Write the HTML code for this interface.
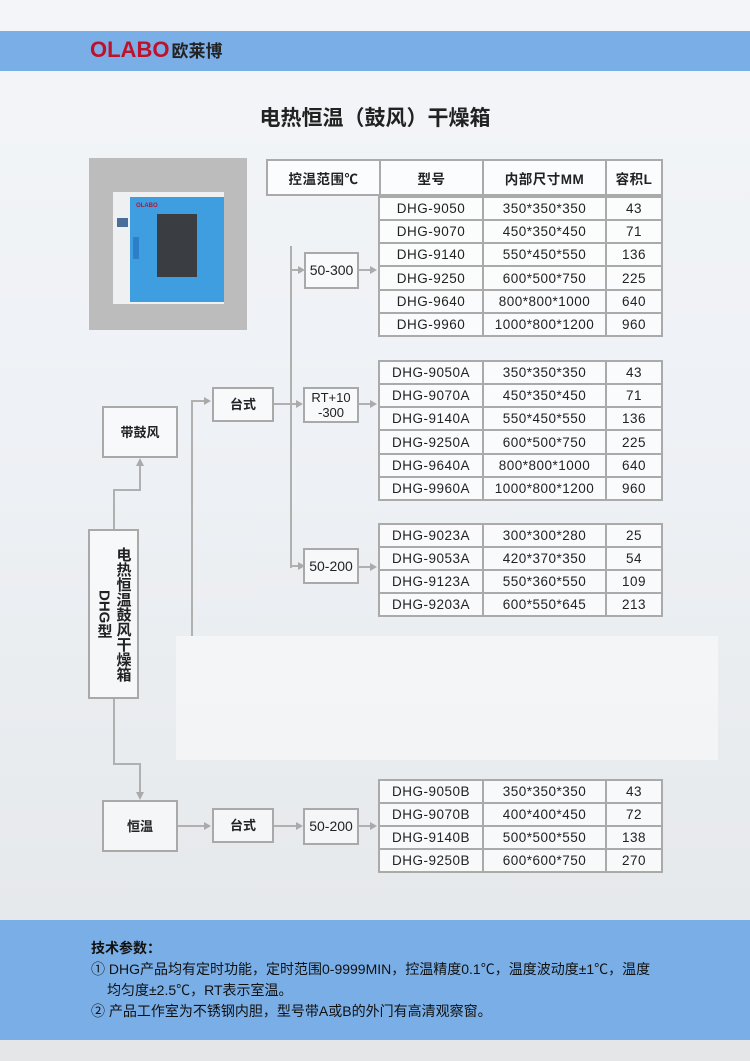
<!DOCTYPE html>
<html><head><meta charset="utf-8">
<style>
*{margin:0;padding:0;box-sizing:border-box}
body{width:750px;height:1061px;position:relative;overflow:hidden;font-family:"Liberation Sans","Noto Sans CJK SC",sans-serif;color:#222;
background:linear-gradient(180deg,#f3f5f8 0%,#eef1f5 40%,#e9ecef 70%,#e4e6e8 100%);}
.abs{position:absolute}
.box{position:absolute;border:2px solid #a9a9a9;background:rgba(255,255,255,.55);display:flex;align-items:center;justify-content:center;font-size:13px;font-weight:bold;color:#222;text-align:center;line-height:15px}
.num{font-weight:normal;font-size:14px}
table{position:absolute;border-collapse:collapse;background:rgba(255,255,255,.7)}
td{border:2px solid #aaa;text-align:center;font-size:13.5px;color:#222;padding:0;letter-spacing:.5px}
.ln{position:absolute;background:#b0b0b0}
.ar{position:absolute;width:0;height:0}
.r{border-top:4px solid transparent;border-bottom:4px solid transparent;border-left:7px solid #aaa}
</style></head><body>
<div class="abs" style="left:0;top:31px;width:750px;height:40px;background:#7aaee6"></div>
<div class="abs" style="left:90px;top:37px;font-size:22px;font-weight:bold;color:#c0112a;letter-spacing:0px">OLABO<span style="font-size:17px;color:#222;margin-left:2px">欧莱博</span></div>
<div class="abs" style="left:0;width:750px;top:102px;text-align:center;font-size:21px;font-weight:bold;color:#222">电热恒温（鼓风）干燥箱</div>
<div class="abs" style="left:89px;top:158px;width:158px;height:172px;background:#bcbcbc"></div>
<div class="abs" style="left:113px;top:192px;width:111px;height:112px;background:#eef0f2"></div>
<div class="abs" style="left:130px;top:197px;width:94px;height:105px;background:#3f9ee0"></div>
<div class="abs" style="left:136px;top:203px;font-size:6px;font-weight:bold;color:#c0112a">OLABO</div>
<div class="abs" style="left:157px;top:214px;width:40px;height:63px;background:#3a3d42"></div>
<div class="abs" style="left:117px;top:218px;width:11px;height:9px;background:#4a6e9a"></div>
<div class="abs" style="left:133px;top:237px;width:6px;height:22px;background:#2a7fc8"></div>

<table style="left:266px;top:159px;width:397px;height:37px"><tr>
<td style="width:113px;font-weight:bold">控温范围℃</td><td style="width:103px;font-weight:bold">型号</td><td style="width:123px;font-weight:bold">内部尺寸MM</td><td style="font-weight:bold">容积L</td></tr></table>

<table style="left:378px;top:196px;width:285px;height:141px">
<tr><td style="width:104px">DHG-9050</td><td style="width:123px">350*350*350</td><td>43</td></tr>
<tr><td>DHG-9070</td><td>450*350*450</td><td>71</td></tr>
<tr><td>DHG-9140</td><td>550*450*550</td><td>136</td></tr>
<tr><td>DHG-9250</td><td>600*500*750</td><td>225</td></tr>
<tr><td>DHG-9640</td><td>800*800*1000</td><td>640</td></tr>
<tr><td>DHG-9960</td><td>1000*800*1200</td><td>960</td></tr></table>

<table style="left:378px;top:360px;width:285px;height:141px">
<tr><td style="width:104px">DHG-9050A</td><td style="width:123px">350*350*350</td><td>43</td></tr>
<tr><td>DHG-9070A</td><td>450*350*450</td><td>71</td></tr>
<tr><td>DHG-9140A</td><td>550*450*550</td><td>136</td></tr>
<tr><td>DHG-9250A</td><td>600*500*750</td><td>225</td></tr>
<tr><td>DHG-9640A</td><td>800*800*1000</td><td>640</td></tr>
<tr><td>DHG-9960A</td><td>1000*800*1200</td><td>960</td></tr></table>

<table style="left:378px;top:523px;width:285px;height:94px">
<tr><td style="width:104px">DHG-9023A</td><td style="width:123px">300*300*280</td><td>25</td></tr>
<tr><td>DHG-9053A</td><td>420*370*350</td><td>54</td></tr>
<tr><td>DHG-9123A</td><td>550*360*550</td><td>109</td></tr>
<tr><td>DHG-9203A</td><td>600*550*645</td><td>213</td></tr></table>

<div class="abs" style="left:176px;top:636px;width:542px;height:124px;background:rgba(244,245,246,.9)"></div>

<table style="left:378px;top:779px;width:285px;height:94px">
<tr><td style="width:104px">DHG-9050B</td><td style="width:123px">350*350*350</td><td>43</td></tr>
<tr><td>DHG-9070B</td><td>400*400*450</td><td>72</td></tr>
<tr><td>DHG-9140B</td><td>500*500*550</td><td>138</td></tr>
<tr><td>DHG-9250B</td><td>600*600*750</td><td>270</td></tr></table>

<div class="ln" style="left:290px;top:246px;width:2px;height:322px"></div>
<div class="ln" style="left:290px;top:269px;width:10px;height:2px"></div><div class="ar r" style="left:298px;top:266px"></div>
<div class="ln" style="left:290px;top:565px;width:10px;height:2px"></div><div class="ar r" style="left:298px;top:562px"></div>
<div class="ln" style="left:358px;top:269px;width:14px;height:2px"></div><div class="ar r" style="left:370px;top:266px"></div>
<div class="ln" style="left:358px;top:403px;width:14px;height:2px"></div><div class="ar r" style="left:370px;top:400px"></div>
<div class="ln" style="left:358px;top:566px;width:14px;height:2px"></div><div class="ar r" style="left:370px;top:563px"></div>
<div class="ln" style="left:273px;top:403px;width:24px;height:2px"></div><div class="ar r" style="left:296px;top:400px"></div>
<div class="ln" style="left:191px;top:400px;width:2px;height:236px"></div>
<div class="ln" style="left:191px;top:400px;width:13px;height:2px"></div><div class="ar r" style="left:204px;top:397px"></div>
<div class="ln" style="left:113px;top:489px;width:2px;height:40px"></div>
<div class="ln" style="left:113px;top:489px;width:27px;height:2px"></div>
<div class="ln" style="left:139px;top:465px;width:2px;height:26px"></div>
<div class="ar" style="left:136px;top:458px;border-left:4px solid transparent;border-right:4px solid transparent;border-bottom:8px solid #aaa"></div>
<div class="ln" style="left:113px;top:698px;width:2px;height:66px"></div>
<div class="ln" style="left:113px;top:763px;width:27px;height:2px"></div>
<div class="ln" style="left:139px;top:763px;width:2px;height:30px"></div>
<div class="ar" style="left:136px;top:792px;border-left:4px solid transparent;border-right:4px solid transparent;border-top:8px solid #aaa"></div>
<div class="ln" style="left:177px;top:825px;width:28px;height:2px"></div><div class="ar r" style="left:204px;top:822px"></div>
<div class="ln" style="left:273px;top:825px;width:24px;height:2px"></div><div class="ar r" style="left:296px;top:822px"></div>
<div class="ln" style="left:358px;top:825px;width:14px;height:2px"></div><div class="ar r" style="left:370px;top:822px"></div>

<div class="box num" style="left:304px;top:252px;width:55px;height:37px">50-300</div>
<div class="box num" style="left:303px;top:387px;width:56px;height:36px;font-size:13px">RT+10<br>-300</div>
<div class="box num" style="left:303px;top:548px;width:56px;height:36px">50-200</div>
<div class="box" style="left:212px;top:387px;width:62px;height:35px">台式</div>
<div class="box" style="left:102px;top:406px;width:76px;height:52px">带鼓风</div>
<div class="box" style="left:88px;top:529px;width:51px;height:170px;writing-mode:vertical-rl;font-size:15px;line-height:19px;justify-content:center">电热恒温鼓风干燥箱<br>DHG型</div>
<div class="box" style="left:102px;top:800px;width:76px;height:52px">恒温</div>
<div class="box" style="left:212px;top:808px;width:62px;height:35px">台式</div>
<div class="box num" style="left:303px;top:808px;width:56px;height:37px">50-200</div>

<div class="abs" style="left:0;top:920px;width:750px;height:120px;background:#7aaee6"></div>
<div class="abs" style="left:91px;top:938px;font-size:14px;line-height:21px;color:#111;white-space:nowrap">
<div style="font-weight:bold">技术参数：</div>
<div>① DHG产品均有定时功能，定时范围0-9999MIN，控温精度0.1℃，温度波动度±1℃，温度</div>
<div style="padding-left:16px">均匀度±2.5℃，RT表示室温。</div>
<div>② 产品工作室为不锈钢内胆，型号带A或B的外门有高清观察窗。</div>
</div>
</body></html>
